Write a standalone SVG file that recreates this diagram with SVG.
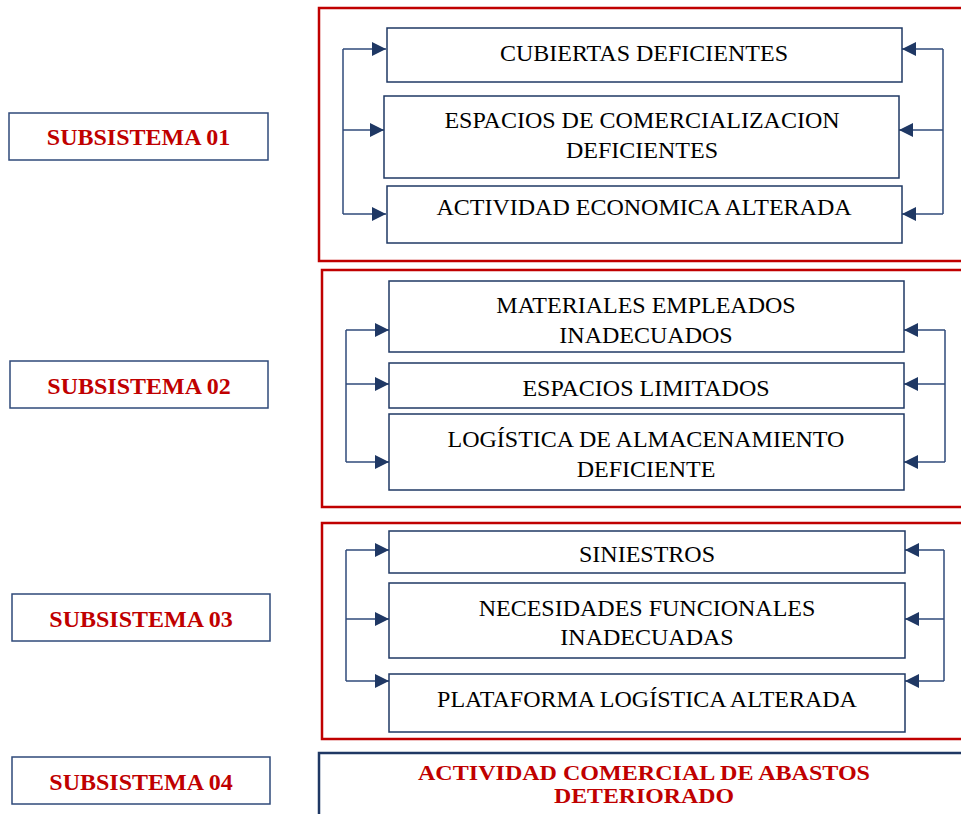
<svg xmlns="http://www.w3.org/2000/svg" width="961" height="814" viewBox="0 0 961 814">
<defs>
<style>
.frame{fill:none;stroke:#C00000;stroke-width:2.5}
.box{fill:#fff;stroke:#1F3864;stroke-width:1.5}
.sub{fill:#fff;stroke:#2F4A7A;stroke-width:1.5}
.t{font-family:"Liberation Serif",serif;font-size:24px;fill:#000;text-anchor:middle}
.st{font-family:"Liberation Serif",serif;font-size:24px;font-weight:bold;fill:#C00000;text-anchor:middle}
.bt{font-family:"Liberation Serif",serif;font-size:21px;font-weight:bold;fill:#C00000;text-anchor:middle}
.c{fill:none;stroke:#2F4A7A;stroke-width:1.5}
</style>
<marker id="ah" viewBox="0 0 10 10" refX="10" refY="5" markerWidth="14" markerHeight="14" markerUnits="userSpaceOnUse" orient="auto"><path d="M0,0 L10,5 L0,10 Z" fill="#1F3864"/></marker>
</defs>
<rect width="961" height="814" fill="#fff"/>
<g id="frames">
<rect class="frame" x="319" y="8" width="660" height="253"/>
<rect class="frame" x="322" y="270" width="660" height="237"/>
<rect class="frame" x="322" y="523" width="660" height="216"/>
<rect x="319" y="753" width="660" height="80" fill="none" stroke="#1F3864" stroke-width="2.5"/>
</g>
<g id="connectors">
<path class="c" d="M343,49 V214"/>
<path class="c" d="M343,49 H386" marker-end="url(#ah)"/>
<path class="c" d="M343,130 H384" marker-end="url(#ah)"/>
<path class="c" d="M343,214 H386" marker-end="url(#ah)"/>
<path class="c" d="M943,49 V214"/>
<path class="c" d="M943,49 H902" marker-end="url(#ah)"/>
<path class="c" d="M943,130 H899" marker-end="url(#ah)"/>
<path class="c" d="M943,214 H902" marker-end="url(#ah)"/>
<path class="c" d="M346,330 V462"/>
<path class="c" d="M346,330 H389" marker-end="url(#ah)"/>
<path class="c" d="M346,384 H389" marker-end="url(#ah)"/>
<path class="c" d="M346,462 H389" marker-end="url(#ah)"/>
<path class="c" d="M945,330 V462"/>
<path class="c" d="M945,330 H904" marker-end="url(#ah)"/>
<path class="c" d="M945,384 H904" marker-end="url(#ah)"/>
<path class="c" d="M945,462 H904" marker-end="url(#ah)"/>
<path class="c" d="M346,550 V681"/>
<path class="c" d="M346,550 H389" marker-end="url(#ah)"/>
<path class="c" d="M346,619 H389" marker-end="url(#ah)"/>
<path class="c" d="M346,681 H389" marker-end="url(#ah)"/>
<path class="c" d="M944,550 V681"/>
<path class="c" d="M944,550 H905" marker-end="url(#ah)"/>
<path class="c" d="M944,619 H905" marker-end="url(#ah)"/>
<path class="c" d="M944,681 H905" marker-end="url(#ah)"/>
</g>
<g id="s1"><rect class="sub" x="9" y="113" width="259" height="47"/><text class="st" x="138.5" y="145">SUBSISTEMA 01</text></g>
<g id="s2"><rect class="sub" x="10" y="361" width="258" height="47"/><text class="st" x="139" y="394">SUBSISTEMA 02</text></g>
<g id="s3"><rect class="sub" x="12" y="594" width="258" height="47"/><text class="st" x="141" y="627">SUBSISTEMA 03</text></g>
<g id="s4"><rect class="sub" x="12" y="757" width="258" height="47"/><text class="st" x="141" y="790">SUBSISTEMA 04</text></g>
<g id="n1"><rect class="box" x="387" y="28" width="515" height="54"/><text class="t" x="644" y="61">CUBIERTAS DEFICIENTES</text></g>
<g id="n2"><rect class="box" x="384" y="96" width="515" height="82"/><text class="t" x="642" y="128">ESPACIOS DE COMERCIALIZACION</text><text class="t" x="642" y="158">DEFICIENTES</text></g>
<g id="n3"><rect class="box" x="387" y="186" width="515" height="57"/><text class="t" x="644" y="215">ACTIVIDAD ECONOMICA ALTERADA</text></g>
<g id="n4"><rect class="box" x="389" y="281" width="515" height="71"/><text class="t" x="646" y="313">MATERIALES EMPLEADOS</text><text class="t" x="646" y="343">INADECUADOS</text></g>
<g id="n5"><rect class="box" x="389" y="363" width="515" height="45"/><text class="t" x="646" y="396">ESPACIOS LIMITADOS</text></g>
<g id="n6"><rect class="box" x="389" y="414" width="515" height="76"/><text class="t" x="646" y="447">LOGÍSTICA DE ALMACENAMIENTO</text><text class="t" x="646" y="477">DEFICIENTE</text></g>
<g id="n7"><rect class="box" x="389" y="531" width="516" height="42"/><text class="t" x="647" y="562">SINIESTROS</text></g>
<g id="n8"><rect class="box" x="389" y="583" width="516" height="75"/><text class="t" x="647" y="616">NECESIDADES FUNCIONALES</text><text class="t" x="647" y="645">INADECUADAS</text></g>
<g id="n9"><rect class="box" x="389" y="674" width="516" height="58"/><text class="t" x="647" y="707">PLATAFORMA LOGÍSTICA ALTERADA</text></g>
<g id="n10"><text class="bt" x="644" y="780" textLength="452" lengthAdjust="spacingAndGlyphs">ACTIVIDAD COMERCIAL DE ABASTOS</text><text class="bt" x="644" y="803" textLength="180" lengthAdjust="spacingAndGlyphs">DETERIORADO</text></g>
</svg>
